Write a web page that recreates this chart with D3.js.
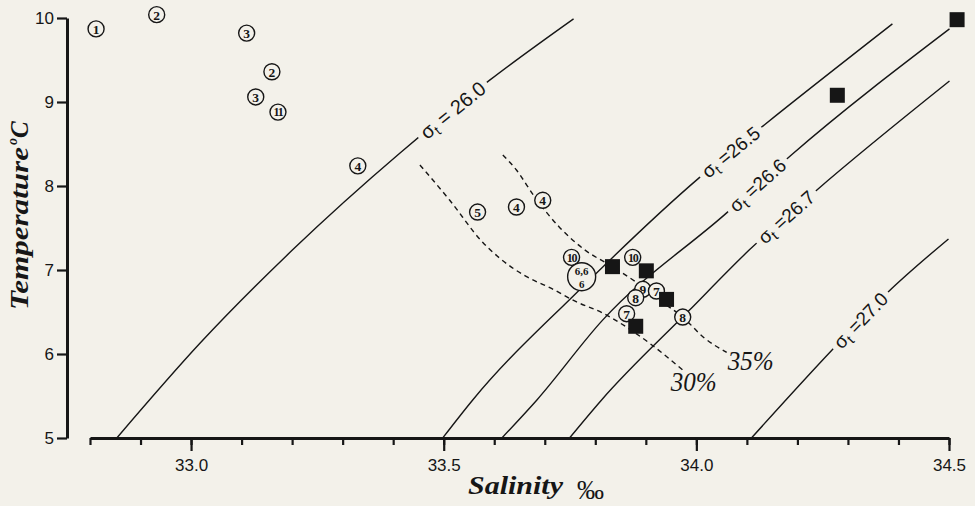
<!DOCTYPE html>
<html>
<head>
<meta charset="utf-8">
<script src="https://cdn.jsdelivr.net/npm/d3@7"></script>
<style>
  body { margin: 0; background: #f3f1ea; }
  svg { display: block; }
</style>
</head>
<body>
<div id="chart"></div>
<script>
// values
const salinityTicks = [32.8, 32.9, 33.0, 33.1, 33.2, 33.3, 33.4, 33.5, 33.6, 33.7, 33.8, 33.9, 34.0, 34.1, 34.2, 34.3, 34.4, 34.5];
const salinityLabels = [33.0, 33.5, 34.0, 34.5];
const tempTicks = [5, 6, 7, 8, 9, 10];

// sigma-t isopycnals, [salinity, temperature]
const sigmaNames = ["26.0", "26.5", "26.6", "26.7", "27.0"];
const iso260 = [[32.853, 5.0], [33.018, 6.13], [33.201, 7.24], [33.413, 8.39], [33.591, 9.26], [33.757, 9.99]];
const iso265 = [[33.498, 5.0], [33.557, 5.45], [33.763, 6.73], [34.006, 8.10], [34.135, 8.73], [34.388, 9.93]];
const iso266 = [[33.615, 5.0], [33.684, 5.45], [33.814, 6.40], [34.060, 7.68], [34.188, 8.37], [34.501, 9.87]];
const iso267 = [[33.749, 5.0], [33.812, 5.45], [33.986, 6.52], [34.105, 7.24], [34.238, 7.95], [34.501, 9.25]];
const iso270 = [[34.109, 5.0], [34.269, 6.05], [34.378, 6.73], [34.499, 7.37]];
const isopycnals = [iso260, iso265, iso266, iso267, iso270];
const sigmaLabelS = [33.518, 34.068, 34.121, 34.178, 34.325];

// mixing lines (dashed)
const mix30 = [[33.453, 8.25], [33.512, 7.83], [33.577, 7.33], [33.611, 7.14], [33.664, 6.92], [33.710, 6.79],
  [33.763, 6.62], [33.814, 6.49], [33.862, 6.32], [33.907, 6.13], [33.973, 5.81]];
const mix35 = [[33.617, 8.37], [33.644, 8.19], [33.680, 7.87], [33.729, 7.51], [33.779, 7.24], [33.834, 7.04],
  [33.882, 6.85], [33.927, 6.64], [33.973, 6.44], [34.016, 6.19], [34.060, 6.02]];
const mixNames = ["30%", "35%"];

// circled station numbers
const stationNo = ["1", "2", "3", "2", "3", "11", "4", "5", "4", "4", "10", "10", "9", "7", "8", "7", "8"];
const stationS = [32.812, 32.932, 33.110, 33.160, 33.128, 33.172, 33.330, 33.567, 33.644, 33.696, 33.753, 33.874, 33.894, 33.921, 33.880, 33.862, 33.973];
const stationT = [9.87, 10.04, 9.82, 9.36, 9.06, 8.88, 8.24, 7.69, 7.75, 7.83, 7.15, 7.15, 6.77, 6.75, 6.67, 6.48, 6.44];
// grouped station 6 (three casts)
const groupS = 33.773, groupT = 6.92;

// filled squares
const squareS = [33.834, 33.901, 33.941, 33.880, 34.279, 34.516];
const squareT = [7.04, 6.99, 6.65, 6.33, 9.08, 9.98];

const width = 975;
const height = 506;
const paper = "#f3f1ea";
const ink = "#161616";
const serif = "Liberation Serif, Times New Roman, serif";
const sans = "Liberation Sans, Arial, sans-serif";

const svg = d3.select("#chart").append("svg")
  .attr("width", width)
  .attr("height", height)
  .style("background", paper);

const x = d3.scaleLinear().domain([32.8, 34.5]).range([90, 949]);
const y = d3.scaleLinear().domain([5, 10]).range([438, 18]);

const line = d3.line()
  .x((d) => x(d[0]))
  .y((d) => y(d[1]))
  .curve(d3.curveMonotoneX);

// isopycnals
svg.append("g")
  .selectAll("path")
  .data(isopycnals)
  .enter()
  .append("path")
  .attr("d", line)
  .attr("fill", "none")
  .attr("stroke", ink)
  .attr("stroke-width", 1.4);

// mixing lines
svg.append("g")
  .selectAll("path")
  .data([mix30, mix35])
  .enter()
  .append("path")
  .attr("d", line)
  .attr("fill", "none")
  .attr("stroke", ink)
  .attr("stroke-width", 1.4)
  .attr("stroke-dasharray", "5,4");

// sigma-t labels sitting in a gap of each line
isopycnals.forEach((pts, i) => {
  const s = sigmaLabelS[i];
  let k = 1;
  while (k < pts.length - 1 && pts[k][0] < s) k++;
  const a = pts[k - 1], b = pts[k];
  const f = (s - a[0]) / (b[0] - a[0]);
  const t = a[1] + f * (b[1] - a[1]);
  const ang = Math.atan2(y(b[1]) - y(a[1]), x(b[0]) - x(a[0])) * 180 / Math.PI;

  const g = svg.append("g")
    .attr("transform", `translate(${x(s)},${y(t)}) rotate(${ang})`);
  const txt = g.append("text")
    .attr("text-anchor", "middle")
    .attr("dy", "0.35em")
    .attr("font-family", sans)
    .attr("font-size", i === 0 ? 20 : 19)
    .attr("fill", ink);
  txt.append("tspan").text("σ");
  txt.append("tspan").attr("font-size", 14).attr("dy", 4).text("t");
  txt.append("tspan").attr("dy", -4).text(i === 0 ? " = " + sigmaNames[i] : " =" + sigmaNames[i]);
  const bb = txt.node().getBBox();
  g.insert("rect", "text")
    .attr("x", bb.x - 5)
    .attr("y", bb.y + 2)
    .attr("width", bb.width + 10)
    .attr("height", bb.height - 4)
    .attr("fill", paper);
});

// mixing line labels at the lower ends
[mix30, mix35].forEach((pts, i) => {
  const end = pts[pts.length - 1];
  svg.append("text")
    .attr("x", x(end[0]) + (i === 0 ? -12 : 1))
    .attr("y", y(end[1]) + (i === 0 ? 21 : 18))
    .attr("font-family", serif)
    .attr("font-style", "italic")
    .attr("font-size", 27)
    .attr("textLength", 46)
    .attr("lengthAdjust", "spacingAndGlyphs")
    .attr("fill", ink)
    .text(mixNames[i]);
});

// stations
const st = svg.append("g")
  .selectAll("g")
  .data(stationNo)
  .enter()
  .append("g")
  .attr("transform", (d, i) => `translate(${x(stationS[i])},${y(stationT[i])})`);
st.append("circle")
  .attr("r", 8)
  .attr("fill", paper)
  .attr("stroke", ink)
  .attr("stroke-width", 1.4);
st.append("text")
  .attr("text-anchor", "middle")
  .attr("dy", "0.36em")
  .attr("font-family", serif)
  .attr("font-weight", "bold")
  .attr("font-size", (d) => (d.length > 1 ? 12 : 13.5))
  .attr("letter-spacing", (d) => (d.length > 1 ? -1.2 : 0))
  .attr("fill", ink)
  .text((d) => d);

const grp = svg.append("g")
  .attr("transform", `translate(${x(groupS)},${y(groupT)})`);
grp.append("circle")
  .attr("r", 14)
  .attr("fill", paper)
  .attr("stroke", ink)
  .attr("stroke-width", 1.4);
const grpText = grp.append("text")
  .attr("text-anchor", "middle")
  .attr("font-family", serif)
  .attr("font-weight", "bold")
  .attr("font-size", 11)
  .attr("fill", ink);
grpText.append("tspan").attr("x", 0).attr("y", -2).text("6,6");
grpText.append("tspan").attr("x", 0).attr("y", 11).text("6");

// squares
svg.append("g")
  .selectAll("rect")
  .data(squareS)
  .enter()
  .append("rect")
  .attr("x", (d) => x(d) - 7.5)
  .attr("y", (d, i) => y(squareT[i]) - 7.5)
  .attr("width", 15)
  .attr("height", 15)
  .attr("fill", ink);

// x axis: minor ticks every 0.1, labelled major ticks every 0.5
const xAxisG = svg.append("g").attr("transform", "translate(0,438)");
xAxisG.append("g")
  .call(d3.axisBottom(x).tickValues(salinityTicks).tickSize(7).tickSizeOuter(0).tickFormat(""))
  .call((g) => g.select(".domain").attr("stroke-width", 3));
xAxisG.append("g")
  .call(d3.axisBottom(x).tickValues(salinityLabels).tickSize(13).tickPadding(8).tickFormat(d3.format(".1f")))
  .call((g) => g.select(".domain").remove());
xAxisG.selectAll(".tick line").attr("stroke", ink).attr("stroke-width", 2.2);
xAxisG.selectAll(".domain").attr("stroke", ink);
xAxisG.selectAll("text")
  .attr("font-family", sans)
  .attr("font-size", 17)
  .attr("fill", ink);

// y axis
const yAxisG = svg.append("g")
  .attr("transform", "translate(67,0)")
  .call(d3.axisLeft(y).tickValues(tempTicks).tickFormat(d3.format("d"))
    .tickSize(10).tickSizeOuter(0).tickPadding(3));
yAxisG.select(".domain").attr("stroke", ink).attr("stroke-width", 3);
yAxisG.selectAll(".tick line").attr("stroke", ink).attr("stroke-width", 2.2);
yAxisG.selectAll("text")
  .attr("font-family", sans)
  .attr("font-size", 17)
  .attr("fill", ink);

// axis titles
svg.append("text")
  .attr("x", 468)
  .attr("y", 494)
  .attr("font-family", serif)
  .attr("font-style", "italic")
  .attr("font-weight", "bold")
  .attr("font-size", 25)
  .attr("textLength", 95)
  .attr("lengthAdjust", "spacingAndGlyphs")
  .attr("fill", ink)
  .text("Salinity");
svg.append("text")
  .attr("x", 577)
  .attr("y", 499)
  .attr("font-family", serif)
  .attr("font-size", 27)
  .attr("fill", ink)
  .text("‰");

svg.append("text")
  .attr("transform", "translate(28,310) rotate(-90)")
  .attr("font-family", serif)
  .attr("font-style", "italic")
  .attr("font-weight", "bold")
  .attr("font-size", 25)
  .attr("textLength", 163)
  .attr("lengthAdjust", "spacingAndGlyphs")
  .attr("fill", ink)
  .text("Temperature");
const deg = svg.append("text")
  .attr("transform", "translate(28,145) rotate(-90)")
  .attr("font-family", serif)
  .attr("font-style", "italic")
  .attr("font-weight", "bold")
  .attr("fill", ink);
deg.append("tspan").attr("font-size", 14).attr("dy", -11).text("o");
deg.append("tspan").attr("font-size", 25).attr("dy", 11).text("C");
</script>
</body>
</html>
